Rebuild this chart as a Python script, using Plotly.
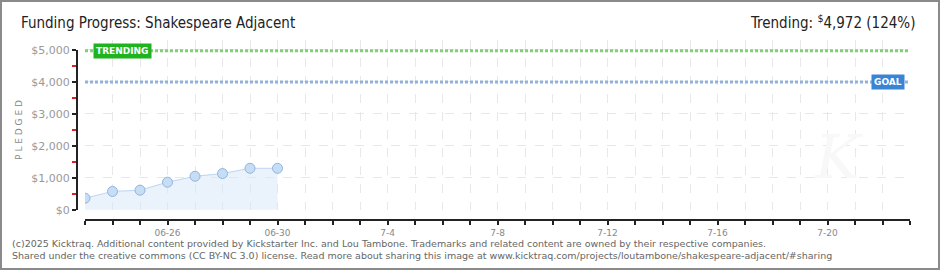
import plotly.graph_objects as go

# ---- data ----
dates = ["2025-06-23", "2025-06-24", "2025-06-25", "2025-06-26",
         "2025-06-27", "2025-06-28", "2025-06-29", "2025-06-30"]
pledged = [365, 575, 615, 865, 1050, 1135, 1300, 1300]
goal = 4000
trending = 4972
trending_pct = 124
x_start, x_end = "2025-06-23", "2025-07-23"
day_ticks = [f"2025-06-{d:02d}" for d in range(23, 31)] + [f"2025-07-{d:02d}" for d in range(1, 24)]
label_map = {"2025-06-26": "06-26", "2025-06-30": "06-30", "2025-07-04": "7-4",
             "2025-07-08": "7-8", "2025-07-12": "7-12", "2025-07-16": "7-16",
             "2025-07-20": "7-20"}
day_labels = [label_map.get(d, "") for d in day_ticks]
y_ticks = [0, 1000, 2000, 3000, 4000, 5000]
y_labels = ["$0", "$1,000", "$2,000", "$3,000", "$4,000", "$5,000"]

W, H = 940, 270
ML, MR, MT, MB = 77, 30, 40, 50
PW = W - ML - MR
PH = H - MT - MB

fig = go.Figure()

# reference lines
fig.add_trace(go.Scatter(x=[x_start, x_end], y=[trending, trending], mode="lines",
                         line=dict(color="#80d076", width=3, dash="3px,2px"),
                         hoverinfo="skip", showlegend=False))
fig.add_trace(go.Scatter(x=[x_start, x_end], y=[goal, goal], mode="lines",
                         line=dict(color="#92b2da", width=3, dash="3px,2px"),
                         hoverinfo="skip", showlegend=False))
# pledged series
fig.add_trace(go.Scatter(x=dates, y=pledged, mode="lines+markers",
                         line=dict(color="#bcd6f2", width=1),
                         fill="tozeroy", fillcolor="rgba(214,230,248,0.5)",
                         marker=dict(size=10, color="#c6ddf6",
                                     line=dict(color="#93b4dc", width=1)),
                         showlegend=False))
# invisible traces for the display axes
fig.add_trace(go.Scatter(x=[x_start], y=[0], xaxis="x2", yaxis="y2",
                         mode="markers", marker=dict(opacity=0),
                         hoverinfo="skip", showlegend=False))

dx = 8 / PW
dy = 10 / PH
ytop = (H - MB - 10 - (MT + 10)) / PH + dy  # $5,000 at 50px

fig.update_layout(
    width=W, height=H,
    margin=dict(l=ML, r=MR, t=MT, b=MB),
    paper_bgcolor="white", plot_bgcolor="rgba(0,0,0,0)",
    font=dict(family="DejaVu Sans", color="#777"),
    xaxis=dict(type="date", domain=[dx, 1], range=[x_start, x_end],
               showgrid=True, gridcolor="#e8e8e8", griddash="dash", gridwidth=1,
               tickvals=day_ticks, showticklabels=False, ticks="",
               showline=False, zeroline=False),
    yaxis=dict(domain=[dy, 1], range=[-5, 5312], showgrid=True,
               gridcolor="#e8e8e8", griddash="dash", tickvals=y_ticks,
               showticklabels=False, ticks="", zeroline=False, showline=False),
    xaxis2=dict(type="date", domain=[dx, 1], range=[x_start, x_end],
                anchor="free", position=0, showgrid=False, zeroline=False,
                showline=True, linecolor="#222", linewidth=2,
                tickvals=day_ticks, ticktext=day_labels, ticks="outside",
                ticklen=4, tickwidth=2, tickcolor="#222",
                tickfont=dict(size=9, color="#888", family="DejaVu Sans")),
    yaxis2=dict(domain=[dy, ytop], range=[0, 5000], anchor="free", position=0,
                showgrid=False, zeroline=False, showline=True, linecolor="#222",
                linewidth=2, tickvals=y_ticks, ticktext=y_labels, ticks="outside",
                ticklen=4, tickwidth=2, tickcolor="#222",
                tickfont=dict(size=11, color="#999", family="DejaVu Sans"),
                minor=dict(dtick=500, tick0=0, ticks="outside", ticklen=4,
                           tickwidth=2, tickcolor="#e02020", showgrid=False),
                title=dict(text="P L E D G E D", standoff=6,
                           font=dict(size=9, color="#888"))),
)

fig.add_annotation(text="Funding Progress: Shakespeare Adjacent", xref="paper", yref="paper",
                   x=-(ML - 19) / PW, y=1 + (MT - 23) / PH, xanchor="left", yanchor="middle",
                   showarrow=False, font=dict(size=15, color="#222", family="DejaVu Sans Condensed"))
fig.add_annotation(text=f"Trending: <sup>$</sup>{trending:,} ({trending_pct}%)", xref="paper", yref="paper",
                   x=1 + (MR - 23) / PW, y=1 + (MT - 22) / PH, xanchor="right", yanchor="middle",
                   showarrow=False, font=dict(size=15, color="#222", family="DejaVu Sans Condensed"))
fig.add_annotation(text="<b>TRENDING</b>", x=x_start, y=trending, xref="x", yref="y",
                   xanchor="left", yanchor="middle", xshift=8, showarrow=False,
                   bgcolor="#1fb41f", borderpad=2,
                   font=dict(size=9, color="white", family="DejaVu Sans"))
fig.add_annotation(text="<b>GOAL</b>", x=x_end, y=goal, xref="x", yref="y",
                   xanchor="right", yanchor="middle", xshift=-5, showarrow=False,
                   bgcolor="#3a84d4", borderpad=2,
                   font=dict(size=9, color="white", family="DejaVu Sans"))
# faint watermark
fig.add_annotation(text="<i>K</i>", x=1 - 45 / PW, y=0.35, xref="paper", yref="paper",
                   showarrow=False, font=dict(size=60, color="#f8f8f8", family="DejaVu Serif"))
# footer
footer = ("(c)2025 Kicktraq. Additional content provided by Kickstarter Inc. and Lou Tambone. "
          "Trademarks and related content are owned by their respective companies.<br>"
          "Shared under the creative commons (CC BY-NC 3.0) license. Read more about sharing this image at "
          "www.kicktraq.com/projects/loutambone/shakespeare-adjacent/#sharing")
fig.add_annotation(text=footer, xref="paper", yref="paper",
                   x=-(ML - 10) / PW, y=-(249 - (H - MB)) / PH, xanchor="left", yanchor="middle",
                   align="left", showarrow=False,
                   font=dict(size=9.5, color="#666", family="DejaVu Sans"))
# outer frame
fig.add_shape(type="rect", xref="paper", yref="paper",
              x0=-(ML - 1) / PW, x1=1 + (MR - 1) / PW,
              y0=-(MB - 1) / PH, y1=1 + (MT - 1) / PH,
              line=dict(color="#8a8a8a", width=2), layer="above")

fig.write_html("out.html")
